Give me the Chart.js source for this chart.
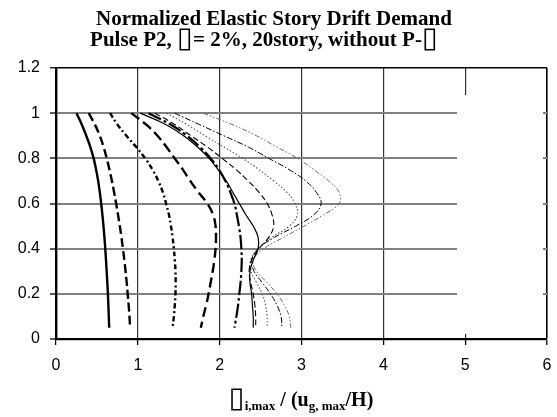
<!DOCTYPE html>
<html>
<head>
<meta charset="utf-8">
<script src="https://cdn.jsdelivr.net/npm/chart.js"></script>
<style>
html,body{margin:0;padding:0;background:#fff;}
#wrap{width:557px;height:417px;}
</style>
</head>
<body>
<div id="wrap"><canvas id="c" width="557" height="417"></canvas></div>
<script>
const titleLine1 = "Normalized Elastic Story Drift Demand";
const titleLine2Parts = ["Pulse P2, ", "\u25AF", "= 2%, 20story, without P-", "\u25AF"];
const xTitleParts = ["\u25AF", "i,max", " / (u", "g, max", "/H)"];
const xTickValues = [0, 1, 2, 3, 4, 5, 6];
const yTickValues = [0, 0.2, 0.4, 0.6, 0.8, 1, 1.2];
const heights = [1.0, 0.95, 0.9, 0.85, 0.8, 0.75, 0.7, 0.65, 0.6, 0.55, 0.5, 0.45, 0.4, 0.35, 0.3, 0.25, 0.2, 0.15, 0.1, 0.05];
const curve1 = [0.25, 0.315, 0.37, 0.42, 0.46, 0.49, 0.515, 0.535, 0.552, 0.567, 0.58, 0.592, 0.602, 0.611, 0.619, 0.627, 0.634, 0.64, 0.645, 0.65];
const curve2 = [0.40, 0.475, 0.535, 0.582, 0.62, 0.653, 0.683, 0.71, 0.735, 0.758, 0.78, 0.80, 0.818, 0.835, 0.85, 0.864, 0.876, 0.888, 0.898, 0.905];
const curve3 = [0.66, 0.75, 0.86, 0.98, 1.09, 1.18, 1.25, 1.305, 1.345, 1.38, 1.405, 1.425, 1.44, 1.452, 1.46, 1.462, 1.46, 1.452, 1.44, 1.425];
const curve4 = [0.92, 1.10, 1.24, 1.35, 1.45, 1.55, 1.64, 1.74, 1.85, 1.92, 1.95, 1.955, 1.95, 1.935, 1.915, 1.89, 1.865, 1.835, 1.80, 1.77];
const curve5 = [1.13, 1.40, 1.60, 1.76, 1.89, 1.99, 2.07, 2.13, 2.18, 2.21, 2.235, 2.255, 2.265, 2.27, 2.265, 2.255, 2.24, 2.225, 2.205, 2.18];
const curve6 = [1.03, 1.34, 1.56, 1.73, 1.87, 1.98, 2.08, 2.16, 2.24, 2.32, 2.41, 2.47, 2.47, 2.41, 2.37, 2.37, 2.39, 2.40, 2.41, 2.41];
const curve7 = [1.21, 1.45, 1.65, 1.85, 2.03, 2.20, 2.35, 2.48, 2.58, 2.64, 2.66, 2.60, 2.48, 2.39, 2.36, 2.38, 2.41, 2.43, 2.44, 2.44];
const curve8 = [1.35, 1.60, 1.82, 2.05, 2.28, 2.48, 2.66, 2.82, 2.92, 2.95, 2.85, 2.64, 2.47, 2.38, 2.38, 2.45, 2.52, 2.56, 2.58, 2.58];
const curve9 = [1.45, 1.75, 2.05, 2.35, 2.60, 2.85, 3.05, 3.18, 3.24, 3.15, 2.93, 2.67, 2.47, 2.39, 2.42, 2.52, 2.62, 2.70, 2.75, 2.76];
const curve10 = [1.80, 2.15, 2.45, 2.70, 2.95, 3.15, 3.33, 3.46, 3.46, 3.27, 3.03, 2.78, 2.54, 2.41, 2.45, 2.58, 2.70, 2.79, 2.85, 2.87];

const curves = [curve1, curve2, curve3, curve4, curve5, curve6, curve7, curve8, curve9, curve10];
const styles = [
  {c:'#000', w:2.4, d:[]},
  {c:'#000', w:2.4, d:[9,4]},
  {c:'#000', w:2.4, d:[5,3,2,3]},
  {c:'#000', w:2.4, d:[10,5]},
  {c:'#000', w:2.2, d:[14,3,3,3]},
  {c:'#000', w:1.2, d:[]},
  {c:'#000', w:1.1, d:[6,3]},
  {c:'#555', w:1.1, d:[1.5,2]},
  {c:'#000', w:1.0, d:[6,2,1.5,2]},
  {c:'#666', w:1.0, d:[5,2,1.5,2,1.5,2]}
];

const datasets = curves.map((xs, i) => ({
  data: xs.map((x, k) => ({x: x, y: heights[k]})),
  borderColor: styles[i].c,
  borderWidth: styles[i].w,
  borderDash: styles[i].d,
  pointRadius: 0,
  fill: false,
  tension: 0.4
}));

const SERIF = '"Liberation Serif", "Times New Roman", serif';
const BOXFONT = '29px "DejaVu Sans", sans-serif';

function drawParts(ctx, parts, cx, base) {
  let total = 0;
  parts.forEach(p => { ctx.font = p.f; p.w = ctx.measureText(p.t).width; total += p.w; });
  let x = cx - total / 2;
  ctx.textAlign = 'left';
  parts.forEach(p => { ctx.font = p.f; ctx.fillText(p.t, x, base + (p.dy || 0)); x += p.w; });
}

const overlay = {
  id: 'overlay',
  beforeDatasetsDraw(chart) {
    const ctx = chart.ctx, xs = chart.scales.x, ys = chart.scales.y;
    const l = xs.getPixelForValue(4.9), r = xs.getPixelForValue(6) - 4;
    const t = ys.getPixelForValue(1.08), b = ys.getPixelForValue(0) - 5;
    ctx.save();
    ctx.fillStyle = '#fff';
    ctx.fillRect(l, t, r - l, b - t);
    ctx.restore();
  },
  afterDraw(chart) {
    const ctx = chart.ctx;
    ctx.save();
    ctx.fillStyle = '#000';
    ctx.textBaseline = 'alphabetic';
    ctx.textAlign = 'center';
    ctx.font = 'bold 21px ' + SERIF;
    ctx.fillText(titleLine1, 274, 25);
    const tf = 'bold 21px ' + SERIF;
    drawParts(ctx, titleLine2Parts.map((t, i) => ({t: t, f: (i % 2 === 1) ? BOXFONT : tf, dy: (i % 2 === 1) ? 1 : 0})), 264, 46);
    const big = 'bold 20px ' + SERIF;
    const small = 'bold 13px ' + SERIF;
    const fonts = [BOXFONT, small, big, small, big];
    const dys = [1, 4, 0, 4, 0];
    drawParts(ctx, xTitleParts.map((t, i) => ({t: t, f: fonts[i], dy: dys[i]})), 301, 406);
    ctx.restore();
  }
};

new Chart(document.getElementById('c'), {
  type: 'line',
  data: { datasets: datasets },
  options: {
    responsive: false,
    animation: false,
    events: [],
    layout: { padding: { top: 68, right: 10, left: 0, bottom: 0 } },
    plugins: { legend: { display: false }, tooltip: { enabled: false }, title: { display: false } },
    scales: {
      x: {
        type: 'linear', min: 0, max: 6,
        afterBuildTicks(s) { s.ticks = xTickValues.map(v => ({value: v})); },
        afterFit(s) { s.height = 78; s.paddingLeft = 0; s.paddingRight = 0; },
        ticks: { color: '#000', font: { family: '"Liberation Sans", Arial, sans-serif', size: 16 }, padding: 11, maxRotation: 0 },
        grid: {
          color: (c) => c.tick && c.tick.value === 6 ? '#000' : '#333',
          lineWidth: (c) => c.tick && c.tick.value === 6 ? 1.6 : 1.2,
          tickColor: '#000', tickLength: 6, tickWidth: 1.3
        },
        border: { display: true, color: '#000', width: 2.2 }
      },
      y: {
        type: 'linear', min: 0, max: 1.2,
        afterBuildTicks(s) { s.ticks = yTickValues.map(v => ({value: v})); },
        afterFit(s) { s.width = 56; s.paddingTop = 0; s.paddingBottom = 0; },
        ticks: { color: '#000', font: { family: '"Liberation Sans", Arial, sans-serif', size: 16 }, padding: 10,
          callback: (v) => String(Math.round(v * 10) / 10) },
        grid: {
          color: (c) => c.tick && c.tick.value === 1.2 ? '#000' : '#808080',
          lineWidth: (c) => c.tick && c.tick.value === 1.2 ? 1.6 : 2,
          tickColor: '#000', tickLength: 6, tickWidth: 1.3
        },
        border: { display: true, color: '#000', width: 2.4 }
      }
    }
  },
  plugins: [overlay]
});
</script>
</body>
</html>
